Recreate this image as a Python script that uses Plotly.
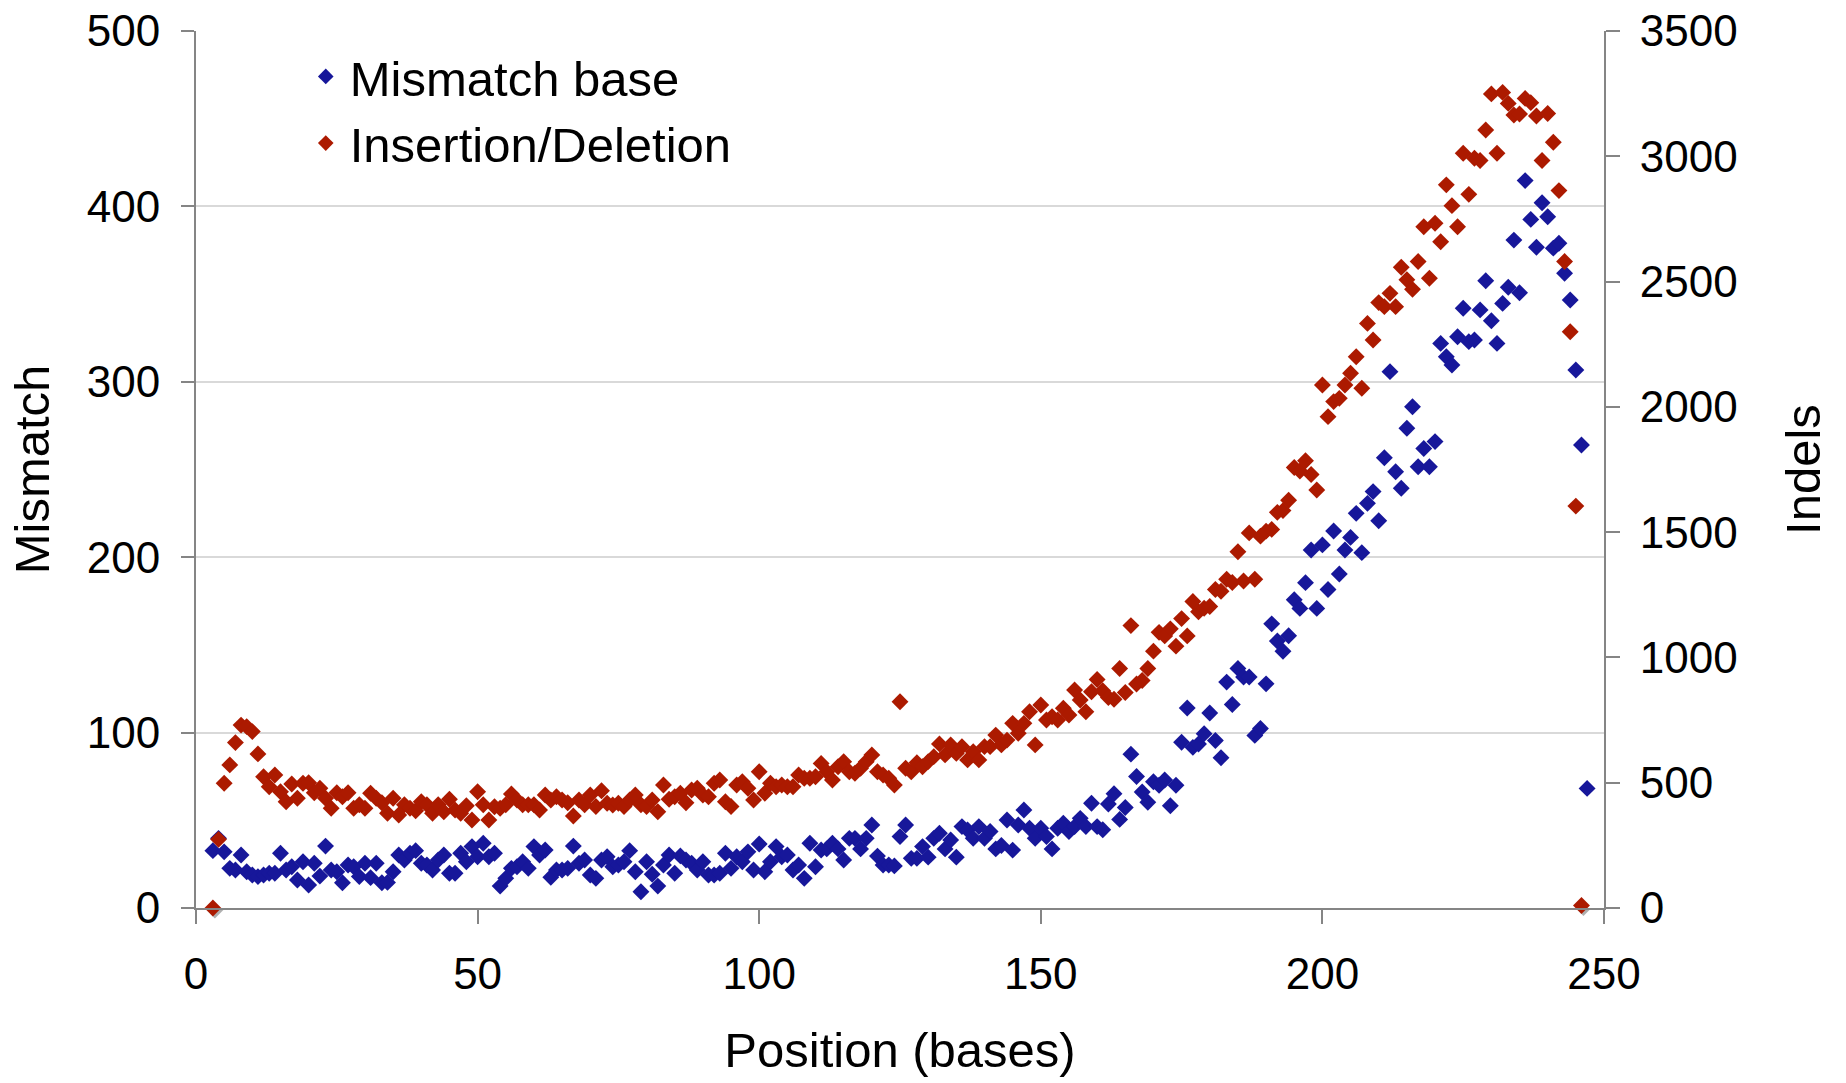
import plotly.graph_objects as go

# Read position (bases) for each series
mismatch_pos = list(range(3, 248))
indel_pos = list(range(3, 247))

# Mismatch base counts per position (left axis)
mismatch = [
    32.7, 39.7, 32.0, 22.6, 21.7, 30.2, 20.7, 18.8, 17.9, 18.8,   # 3-12
    19.8, 19.8, 31.2, 21.7, 23.5, 16.0, 26.4, 13.1, 25.5, 18.2,   # 13-22
    35.3, 21.7, 20.7, 14.4, 24.5, 23.5, 17.9, 25.5, 17.3, 25.5,   # 23-32
    14.4, 14.6, 20.7, 30.2, 27.4, 31.2, 32.7, 25.5, 24.5, 21.7,   # 33-42
    27.4, 30.2, 19.8, 19.8, 31.2, 26.4, 35.0, 29.2, 36.9, 29.2,   # 43-52
    31.2, 12.5, 16.9, 22.6, 23.5, 26.4, 22.6, 35.0, 30.2, 33.1,   # 53-62
    17.5, 21.7, 21.7, 22.6, 35.3, 25.5, 27.4, 18.8, 16.9, 27.4,   # 63-72
    29.2, 23.5, 24.5, 26.4, 32.7, 20.7, 9.3, 26.4, 19.2, 12.5,    # 73-82
    24.5, 30.2, 19.8, 29.7, 27.4, 25.5, 21.7, 26.4, 18.8, 18.8,   # 83-92
    19.8, 31.2, 22.6, 29.2, 26.4, 32.0, 21.7, 36.5, 20.7, 26.4,   # 93-102
    35.0, 29.2, 30.2, 21.7, 24.5, 16.9, 36.9, 23.5, 33.1, 33.7,   # 103-112
    36.9, 33.7, 27.4, 39.7, 39.7, 33.7, 39.7, 47.3, 29.6, 24.5,   # 113-122
    24.5, 24.0, 40.7, 47.3, 28.3, 28.3, 35.0, 29.0, 39.7, 42.6,   # 123-132
    33.7, 38.8, 29.0, 46.4, 44.5, 39.7, 46.4, 39.7, 43.6, 33.7,   # 133-142
    35.6, 50.2, 33.0, 47.3, 55.9, 45.5, 39.7, 45.5, 40.7, 33.7,   # 143-152
    45.5, 48.3, 43.6, 46.4, 51.1, 46.4, 59.7, 46.4, 44.6, 59.3,   # 153-162
    65.2, 50.5, 57.3, 87.7, 75.0, 66.1, 60.3, 72.0, 70.0, 73.0,   # 163-172
    58.3, 70.0, 94.5, 114.0, 91.6, 93.5, 99.4, 111.2, 95.5, 85.7,  # 173-182
    128.8, 116.0, 136.6, 131.7, 131.7, 98.4, 102.3, 127.8, 162.0, 152.2,  # 183-192
    146.4, 155.2, 175.7, 170.8, 185.5, 204.1, 170.8, 207.0, 181.6, 214.9,  # 193-202
    190.4, 204.1, 211.3, 225.0, 202.6, 230.7, 237.4, 220.8, 256.7, 305.8,  # 203-212
    248.7, 239.3, 273.5, 285.8, 251.6, 262.0, 251.6, 265.9, 321.9, 314.3,  # 213-222
    309.6, 325.7, 341.9, 322.9, 323.8, 341.0, 357.6, 334.8, 321.9, 344.7,  # 223-232
    353.9, 380.8, 350.8, 414.7, 392.6, 376.7, 402.1, 394.1, 376.2, 379.0,  # 233-242
    361.9, 346.6, 306.7, 264.0, 68.2,                                     # 243-247
]

# Insertion/deletion counts per position (right axis)
indels = [
    0, 274, 498, 571, 660, 730, 724, 704, 615, 524,        # 3-12
    484, 531, 464, 424, 495, 438, 498, 500, 460, 478,      # 13-22
    438, 398, 460, 444, 460, 398, 412, 398, 458, 438,      # 23-32
    420, 378, 438, 371, 412, 398, 388, 424, 412, 378,      # 33-42
    412, 384, 434, 391, 378, 408, 351, 464, 412, 351,      # 43-52
    404, 398, 412, 455, 431, 412, 412, 412, 391, 451,      # 53-62
    431, 444, 431, 420, 367, 431, 412, 451, 405, 468,      # 63-72
    418, 411, 418, 405, 431, 451, 412, 405, 431, 384,      # 73-82
    491, 434, 444, 458, 420, 471, 478, 451, 444, 498,      # 83-92
    511, 424, 405, 491, 504, 478, 431, 544, 458, 498,      # 93-102
    484, 491, 484, 484, 531, 518, 518, 524, 577, 544,      # 103-112
    511, 564, 584, 544, 538, 558, 584, 611, 544, 531,      # 113-122
    518, 491, 823, 558, 544, 580, 564, 584, 604, 655,      # 123-132
    611, 651, 617, 644, 591, 624, 591, 644, 644, 690,      # 133-142
    651, 670, 737, 697, 737, 783, 651, 810, 750, 763,      # 143-152
    750, 797, 770, 870, 830, 783, 863, 912, 867, 840,      # 153-162
    833, 956, 860, 1127, 894, 908, 956, 1025, 1100, 1086,  # 163-172
    1114, 1045, 1155, 1086, 1223, 1182, 1196, 1203, 1271, 1264,  # 173-182
    1312, 1299, 1422, 1305, 1497, 1312, 1484, 1504, 1511, 1579,  # 183-192
    1586, 1627, 1758, 1744, 1785, 1730, 1668, 2087, 1961, 2021,  # 193-202
    2034, 2087, 2134, 2200, 2074, 2333, 2267, 2416, 2400, 2453,  # 203-212
    2400, 2557, 2507, 2469, 2580, 2719, 2513, 2733, 2659, 2886,  # 213-222
    2803, 2719, 3012, 2848, 2992, 2983, 3105, 3249, 3012, 3255,  # 223-232
    3211, 3165, 3169, 3231, 3214, 3161, 2983, 3171, 3056, 2863,  # 233-242
    2580, 2300, 1604, 10,                                         # 243-246
]

series_names = ["Mismatch base", "Insertion/Deletion"]
x_ticks = [0, 50, 100, 150, 200, 250]
left_ticks = [0, 100, 200, 300, 400, 500]
right_ticks = [0, 500, 1000, 1500, 2000, 2500, 3000, 3500]

BLUE = "#17179a"
RED = "#ac1a00"
SHADOW = "rgba(110,110,110,0.55)"
AXIS = "#858585"
GRID = "#d9d9d9"
FONT = "Liberation Sans, Arial, sans-serif"
MSIZE = 13

W, H = 1846, 1083
ML, MR, MT, MB = 196, 240, 31, 173
PW, PH = W - ML - MR, H - MT - MB
SH = 2  # drop-shadow offset in pixels

fig = go.Figure()

# Drop shadows: same data on a hidden subplot nudged right/down by a couple of pixels
fig.add_trace(go.Scatter(x=mismatch_pos, y=mismatch, mode="markers", xaxis="x", yaxis="y",
                         marker=dict(symbol="diamond", size=MSIZE, color=SHADOW),
                         showlegend=False, hoverinfo="skip", cliponaxis=False))
fig.add_trace(go.Scatter(x=indel_pos, y=indels, mode="markers", xaxis="x", yaxis="y2",
                         marker=dict(symbol="diamond", size=MSIZE, color=SHADOW),
                         showlegend=False, hoverinfo="skip", cliponaxis=False))

# Main series
fig.add_trace(go.Scatter(x=mismatch_pos, y=mismatch, mode="markers", name=series_names[0],
                         xaxis="x2", yaxis="y3",
                         marker=dict(symbol="diamond", size=MSIZE, color=BLUE), cliponaxis=False))
fig.add_trace(go.Scatter(x=indel_pos, y=indels, mode="markers", name=series_names[1],
                         xaxis="x2", yaxis="y4",
                         marker=dict(symbol="diamond", size=MSIZE, color=RED), cliponaxis=False))

hidden = dict(visible=False, showgrid=False, zeroline=False, fixedrange=True)

fig.update_layout(
    width=W, height=H,
    margin=dict(l=ML, r=MR, t=MT, b=MB, autoexpand=False),
    paper_bgcolor="white", plot_bgcolor="white",
    font=dict(family=FONT, color="black", size=44),
    showlegend=True,
    legend=dict(x=0.075, y=0.992, xanchor="left", yanchor="top",
                bgcolor="rgba(0,0,0,0)", font=dict(size=49, family=FONT),
                tracegroupgap=0, itemsizing="constant", itemwidth=38),
    # shadow subplot
    xaxis=dict(hidden, domain=[SH / PW, 1], range=[0, 250], anchor="y"),
    yaxis=dict(hidden, domain=[0, 1 - SH / PH], range=[0, 500], anchor="x"),
    yaxis2=dict(hidden, overlaying="y", range=[0, 3500], anchor="x"),
    # visible subplot
    xaxis2=dict(domain=[0, 1 - SH / PW], range=[0, 250], anchor="y3",
                tickvals=x_ticks, ticks="outside", ticklen=14, tickwidth=2, tickcolor=AXIS,
                showline=True, linecolor=AXIS, linewidth=2, showgrid=False, zeroline=False,
                tickfont=dict(size=44), ticklabelstandoff=12,
                title=dict(text="Position (bases)", font=dict(size=49), standoff=36)),
    yaxis3=dict(domain=[SH / PH, 1], range=[0, 500], anchor="x2",
                tickvals=left_ticks, ticks="outside", ticklen=13, tickwidth=2, tickcolor=AXIS,
                showline=True, linecolor=AXIS, linewidth=2,
                showgrid=True, gridcolor=GRID, gridwidth=1.5, zeroline=False,
                tickfont=dict(size=44), ticklabelstandoff=12,
                title=dict(text="Mismatch", font=dict(size=49), standoff=22)),
    yaxis4=dict(overlaying="y3", side="right", anchor="x2", range=[0, 3500],
                tickvals=right_ticks, ticks="outside", ticklen=14, tickwidth=2, tickcolor=AXIS,
                showline=True, linecolor=AXIS, linewidth=2, showgrid=False, zeroline=False,
                tickfont=dict(size=44), ticklabelstandoff=11,
                title=dict(text="Indels", font=dict(size=49), standoff=49)),
    # inner half of the right-axis ticks (they cross the axis line)
    yaxis5=dict(overlaying="y3", side="right", anchor="x2", range=[0, 3500],
                tickvals=right_ticks, ticks="inside", ticklen=14, tickwidth=2, tickcolor=AXIS,
                showticklabels=False, showline=False, showgrid=False, zeroline=False),
)

fig.write_html("out.html")
